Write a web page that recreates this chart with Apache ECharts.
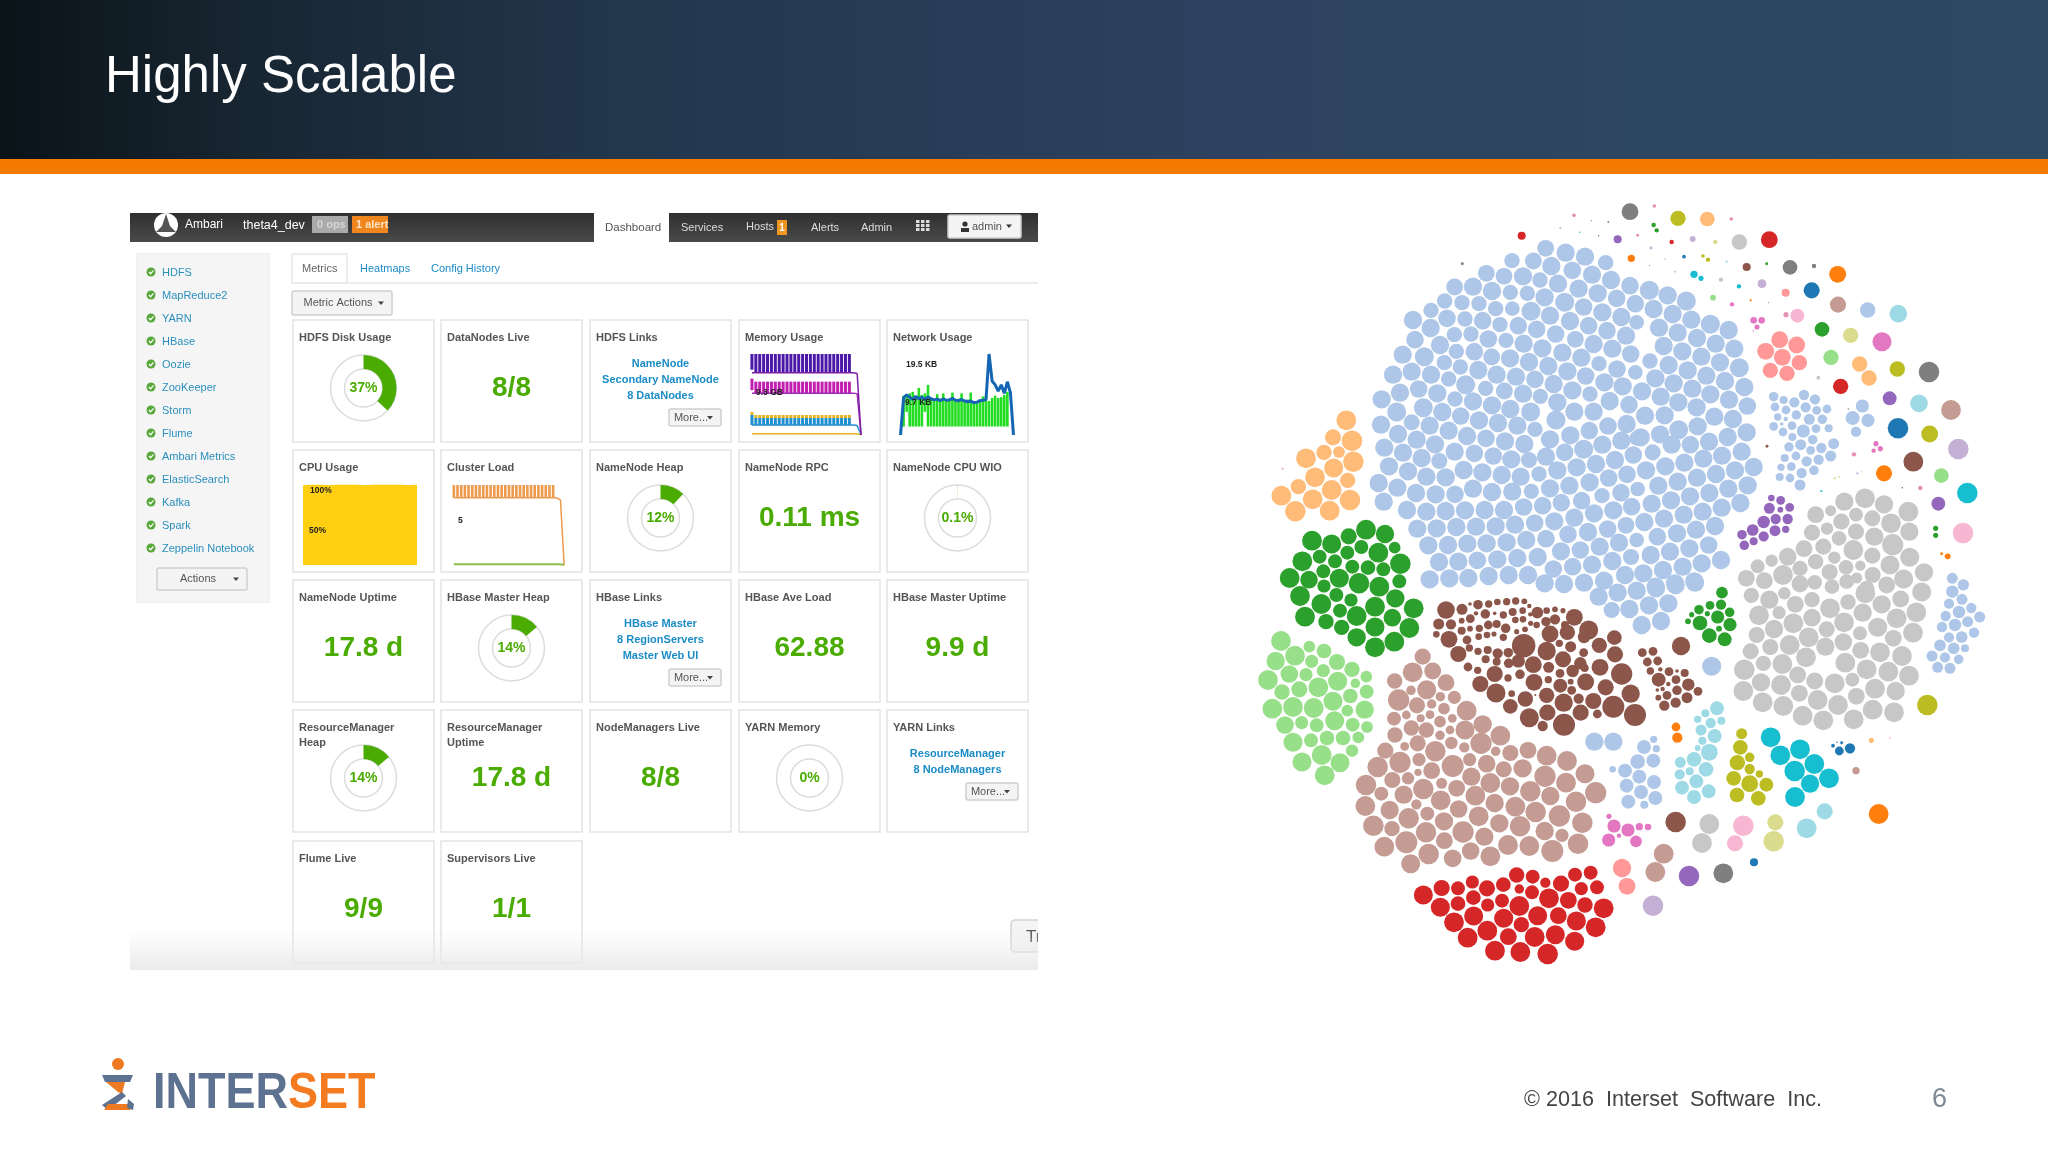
<!DOCTYPE html>
<html>
<head>
<meta charset="utf-8">
<title>Highly Scalable</title>
<script src="https://cdn.jsdelivr.net/npm/echarts@6/dist/echarts.min.js"></script>
<style>
html,body{margin:0;padding:0;background:#fff;}
#main{width:2048px;height:1152px;}
</style>
</head>
<body>
<div id="main"></div>
<script>
// ---- dashboard data ----
const cardTitles = ['HDFS Disk Usage','DataNodes Live','HDFS Links','Memory Usage','Network Usage',
    'CPU Usage','Cluster Load','NameNode Heap','NameNode RPC','NameNode CPU WIO',
    'NameNode Uptime','HBase Master Heap','HBase Links','HBase Ave Load','HBase Master Uptime',
    'ResourceManager\nHeap','ResourceManager\nUptime','NodeManagers Live','YARN Memory','YARN Links',
    'Flume Live','Supervisors Live'];
const cardValues = [null,'8/8',null,null,null, null,null,null,'0.11 ms',null,
    '17.8 d',null,null,'62.88','9.9 d', null,'17.8 d','8/8',null,null, '9/9','1/1'];
const gaugeCards = [0,7,9,11,15,18];
const gaugeValues = [37,12,0.1,14,14,0];
const gaugeLabels = ['37%','12%','0.1%','14%','14%','0%'];
const linkCards = [2,12,19];
const linkTexts = [['NameNode','Secondary NameNode','8 DataNodes'],['HBase Master','8 RegionServers','Master Web UI'],['ResourceManager','8 NodeManagers']];
const services = ['HDFS','MapReduce2','YARN','HBase','Oozie','ZooKeeper','Storm','Flume','Ambari Metrics','ElasticSearch','Kafka','Spark','Zeppelin Notebook'];

// mini charts
const cpuUsage = [99,100,100,99,100,100,100,99,100,100,100,100,99,100];
const loadBase = [8.4,8.4,8.4,8.4,8.4,8.4,8.4,8.4,8.4,8.4,8.4,8.4,8.4,8.4,8.4,8.4,8.4,8.4,8.4,8.4,8.4,8.4,8.4,8.4,8.4,8.4,8.4,8.4];
const loadStripe = [1.6,1.6,1.6,1.6,1.6,1.6,1.6,1.6,1.6,1.6,1.6,1.6,1.6,1.6,1.6,1.6,1.6,1.6,1.6,1.6,1.6,1.6,1.6,1.6,1.6,1.6,1.6,1.6];
const loadLine = [8.4,8.4,8.4,8.4,8.4,8.4,8.4,8.4,8.4,8.4,8.4,8.4,8.4,8.4,8.4,8.4,8.4,8.4,8.4,8.4,8.4,8.4,8.4,8.4,8.4,8.4,8.4,8.4,8.4,8.1,0];
const loadFloor = [0.1,0.1,0.1,0.1,0.1,0.1,0.1,0.1,0.1,0.1,0.1,0.1,0.1,0.1,0.1,0.1,0.1,0.1,0.1,0.1,0.1,0.1,0.1,0.1,0.1,0.1,0.1,0.1,0.1,0.1,0];
const memBlue = [2.3,1.6,1.6,1.6,1.6,1.6,1.6,1.6,1.6,1.6,1.6,1.6,1.6,1.6,1.6,1.6,1.6,1.6,1.6,1.6,1.6,1.6,1.6,1.6,1.6,1.6];
const memGapA = [2.3,2.3,2.3,2.3,2.3,2.3,2.3,2.3,2.3,2.3,2.3,2.3,2.3,2.3,2.3,2.3,2.3,2.3,2.3,2.3,2.3,2.3,2.3,2.3,2.3,2.3];
const memYellow = [0.7,0.7,0.7,0.7,0.7,0.7,0.7,0.7,0.7,0.7,0.7,0.7,0.7,0.7,0.7,0.7,0.7,0.7,0.7,0.7,0.7,0.7,0.7,0.7,0.7,0.7];
const memGapB = [5,5,5,5,5,5,5,5,5,5,5,5,5,5,5,5,5,5,5,5,5,5,5,5,5,5];
const memPink = [2.65,2.65,2.65,2.65,2.65,2.65,2.65,2.65,2.65,2.65,2.65,2.65,2.65,2.65,2.65,2.65,2.65,2.65,2.65,2.65,2.65,2.65,2.65,2.65,2.65,2.65];
const memGapC = [2.05,2.05,2.05,2.05,2.05,2.05,2.05,2.05,2.05,2.05,2.05,2.05,2.05,2.05,2.05,2.05,2.05,2.05,2.05,2.05,2.05,2.05,2.05,2.05,2.05,2.05];
const memPurple = [4.3,4.3,4.3,4.3,4.3,4.3,4.3,4.3,4.3,4.3,4.3,4.3,4.3,4.3,4.3,4.3,4.3,4.3,4.3,4.3,4.3,4.3,4.3,4.3,4.3,4.3];
const memPurpleLine = [14.3,14.3,14.3,14.3,14.3,14.3,14.3,14.3,14.3,14.3,14.3,14.3,14.3,14.3,14.3,14.3,14.3,14.3,14.3,14.3,14.3,14.3,14.3,14.3,14.3,14.3,14.3,14.1,0];
const memPinkLine = [9.6,9.6,9.6,9.6,9.6,9.6,9.6,9.6,9.6,9.6,9.6,9.6,9.6,9.6,9.6,9.6,9.6,9.6,9.6,9.6,9.6,9.6,9.6,9.6,9.6,9.6,9.6,9.5,0];
const memBlueLine = [2.3,2.3,2.3,2.3,2.3,2.3,2.3,2.3,2.3,2.3,2.3,2.3,2.3,2.3,2.3,2.3,2.3,2.3,2.3,2.3,2.3,2.3,2.3,2.3,2.3,2.3,2.3,2.2,0];
const memYellowLine = [0.3,0.3,0.3,0.3,0.3,0.3,0.3,0.3,0.3,0.3,0.3,0.3,0.3,0.3,0.3,0.3,0.3,0.3,0.3,0.3,0.3,0.3,0.3,0.3,0.3,0.3,0.3,0.3,0];
const netGreenBase = [0,2.2,6,2.2,2.2,2.2,2.2,2.2,6,2.2,2.2,2.2,2.2,2.2,2.2,2.2,2.2,2.2,2.2,2.2,2.2,2.2,2.2,2.2,2.2,2.2,2.2,2.2,2.2,2.2,2.2,2.2,2.2,2.2,2.2,2.2,0,0];
const netGreenBar = [0,8,4.4,8.6,9,7.8,10,8.2,4.8,10.8,7.4,6.6,8.4,7.2,8.6,6.8,7.2,8.8,6.6,7.2,8.6,6.8,7,8.8,6.4,6.4,7,7.8,8,6.6,7.4,8,7.4,7.6,8.2,9,0,0];
const netBlue = [0,9.6,10.4,9.8,9.2,10,9.4,9.8,9.2,9.9,9.4,9.1,9.3,8.9,9.4,9,9.1,9.5,9,8.9,9.2,8.8,8.6,8.8,8.4,8.5,8.9,9,9.2,21,14,13,11.4,13,10.8,13.8,11,0];

// ---- bubble pack data: x, y and diameter, read from the four zoom tiles ----
const t1Blue = [[917,175,46],[977,188,50],[1035,200,50],[1097,218,42],[816,212,42],[880,213,46],[934,228,50],[997,241,48],[1056,254,50],[1113,270,50],[1170,287,48],
[739,250,46],[792,259,46],[849,259,50],[900,270,42],[954,281,50],[1016,296,50],[1073,310,50],[1130,325,48],[1186,341,48],
[644,291,46],[699,290,50],[756,303,50],[811,307,42],[862,310,42],[914,322,50],[974,337,52],[1031,351,48],[1087,367,50],[1144,381,50],[1190,397,40],
[614,333,42],[666,338,42],[717,341,42],[767,356,42],[817,356,40],[873,364,52],[930,377,50],[990,393,50],[1046,407,48],[1101,422,48],[1158,437,50],
[573,361,42],[621,385,48],[675,387,42],[728,392,48],[780,404,42],[835,407,48],[890,418,48],[947,432,48],[1006,448,46],[1061,462,50],[1117,476,50],[1172,492,48],
[519,390,50],[572,414,50],[643,434,42],[693,432,42],[745,447,48],[798,451,42],[851,461,50],[907,475,50],[967,488,50],[1024,503,50],[1077,521,42],[1131,537,48],[1186,547,40],
[525,449,48],[600,465,50],[649,484,42],[703,485,48],[755,501,46],[810,505,50],[867,516,50],[925,528,50],[982,544,50],[1037,558,48],[1093,577,50],[1148,589,50],
[488,494,50],[553,500,52],[613,518,42],[661,531,42],[715,540,50],[770,554,50],[828,560,50],[885,568,48],[941,582,50],[997,601,50],[1050,612,42],[1109,633,50],[1167,644,48],
[459,554,50],[515,545,50],[573,554,50],[626,567,42],[677,584,52],[737,595,42],[793,603,46],[849,611,50],[901,619,42],[952,637,50],[1003,665,50],[1061,665,50],
[480,608,50],[536,597,48],[592,610,50],[645,627,42],[699,634,50],[756,646,50],[811,657,50],[872,666,52],[948,690,52],
[425,628,50],[470,666,52],[550,653,52],[607,666,50],[662,678,48],[717,691,50],[774,699,50],[832,707,50],[885,718,42],[930,748,50],[991,736,50],[1048,722,48],[1104,708,48],[1160,702,50],
[423,704,50],[515,697,44],[569,707,50],[626,722,50],[681,738,50],[738,745,48],[795,754,50],[853,762,50],[1031,778,52],[974,787,48],[1087,764,50],[1144,752,50],[1190,745,40],
[474,732,50],[530,749,50],[585,763,50],[644,785,50],[703,790,48],[760,798,48],[814,808,50],[867,810,44],[918,800,50],
[433,773,50],[489,788,50],[545,804,50],[598,813,44],[671,840,50],[727,847,50],[785,855,50],[842,860,50],[897,852,42],[952,841,50],[1010,832,50],[1068,822,50],[1125,810,50],[1180,795,48],
[447,829,50],[504,844,50],[559,860,50],[617,862,50],[699,896,50],[756,906,50],[817,905,50],[874,904,42],[930,895,50],[988,887,50],[1049,877,50],[1106,864,48],[1161,853,48],
[416,879,50],[472,893,50],[528,909,50],[587,913,50],[645,913,48],[851,951,48],[908,947,48],[964,938,48],[1025,932,48],[1086,917,42],[1143,908,48],[1193,897,40],
[431,935,50],[501,960,50],[559,965,50],[617,963,50],[675,961,50],[734,960,50],[792,960,50],[884,999,48],[943,994,50],[1003,983,50],[1062,970,50],[1120,961,50],[1175,950,48],
[532,1016,50],[590,1015,50],[649,1011,50],[708,1010,50],[767,1009,50],[825,1004,50],[984,1033,48],[1044,1026,50],[1103,1017,48],[1158,1006,46],
[565,1066,50],[624,1065,50],[682,1061,50],[740,1060,50],[800,1057,50],[859,1050,50],[918,1046,48],[963,1084,50],[1021,1080,48],[1079,1070,50],[1137,1058,50],[1190,1050,40],
[597,1116,50],[655,1115,50],[712,1111,48],[772,1108,50],[832,1104,50],[893,1101,50],[940,1137,48],[998,1130,48],[1056,1124,50],[1117,1113,50],[1173,1101,44],
[569,1168,50],[628,1165,50],[685,1164,50],[746,1158,50],[806,1155,50],[864,1155,50],[914,1180,50],[972,1182,50],[1032,1178,50],[1092,1172,50],[1155,1155,50]];
const t1Peach = [[319,691,54],[279,742,44],[336,752,56],[252,787,42],[297,786,32],[198,805,54],[281,834,52],[340,815,56],[225,862,54],[323,871,42],[175,890,42],[275,900,54],[124,917,54],[218,928,54],[330,930,56],[166,964,56],[269,962,54]];
const t1Green = [[378,1019,54],[435,1032,50],[216,1052,54],[326,1039,44],[275,1062,52],[364,1071,38],[415,1088,54],[464,1073,32],[187,1114,54],[239,1100,38],[322,1088,38],[481,1121,56],[285,1114,38],[337,1130,38],[384,1133,40],[430,1138,38],[250,1144,38],[149,1164,54],[207,1169,48],[298,1165,52],[357,1180,56],[478,1174,38],[252,1188,36],[418,1190,54]];
const t1Red = [[845,137,22]];
const t1Purple = [[1133,148,22]];
const t1Orange = [[1174,205,20]];
const t1Grey = [[1170,65,46],[667,221,8],[1105,96,5],[1054,92,3],[1076,137,4]];
const t1Pink = [[1002,76,10],[1193,136,8],[128,836,5]];
const t1Mauve = [[961,114,6]];
const t1Cyan = [[1019,127,4]];

const t2Blue = [[88,301,52],[143,316,50],[199,333,52],[101,357,50],[158,372,50],[214,389,50],[271,403,52],[326,420,50],
[117,413,50],[173,428,50],[231,444,50],[287,461,50],[343,476,50],
[131,468,50],[187,484,50],[244,500,50],[300,517,50],[358,533,52],
[90,513,42],[146,525,50],[203,541,50],[259,557,50],[315,573,50],[373,591,50],
[106,565,50],[161,580,50],[217,596,50],[271,613,50],[327,629,50],[382,648,48],
[66,604,50],[122,620,50],[175,637,50],[230,652,50],[283,680,50],[339,687,50],
[75,677,50],[134,676,50],[176,719,52],[233,709,50],[380,727,50],[323,741,50],[267,755,50],[211,764,48],
[62,742,50],[120,733,50],[155,764,50],[98,787,44],
[365,785,50],[306,797,50],[250,806,50],[193,818,50],[136,829,50],[78,841,50],
[401,831,50],[345,841,50],[288,852,50],[231,863,50],[173,875,50],[115,887,50],
[383,886,50],[325,896,50],[268,909,50],[210,919,50],[153,931,50],[95,941,50],
[361,939,50],[305,953,50],[248,965,50],[191,974,50],[132,986,50],[73,996,50],
[285,1008,50],[228,1019,50],[171,1030,50],[112,1040,48],
[266,1065,48],[208,1075,50],[150,1085,50],[92,1095,50],
[303,1110,50],[245,1120,50],[188,1130,50],[129,1140,50],[70,1150,50],
[223,1174,50],[165,1180,50],[107,1190,50],
[461,620,26],[491,630,22],[523,637,28],[552,615,28],[585,628,28],[465,651,24],[498,660,24],[557,652,28],[590,661,24],[621,657,24],[473,681,20],[497,687,12],[529,675,26],[568,688,30],[607,688,26],[461,709,24],[485,702,10],[516,707,24],[550,723,36],[588,716,24],[626,715,22],[489,726,24],[517,741,22],[578,749,26],[641,761,30],[542,764,30],[507,771,26],[604,774,28],[572,781,24],[632,798,30],[494,804,22],[528,798,24],[560,814,28],[596,809,28],[483,832,20],[514,830,24],[545,849,28],[582,841,26],[479,861,22],[510,864,24],[540,885,30],
[727,648,36],[698,684,38],[744,691,36],[708,725,28],[743,360,42],[997,1165,30],[1030,1185,30]];
const t2Grey = [[735,925,54],[673,935,50],[792,943,50],[632,962,30],[587,974,46],[708,974,38],[865,965,54],[757,985,44],[664,995,44],[813,1000,54],[576,1028,44],[621,1016,34],[708,1025,44],[868,1025,50],[657,1045,40],[763,1040,50],[818,1064,58],[552,1076,46],[610,1070,44],[700,1080,54],[757,1097,44],[643,1103,34],[503,1100,48],[455,1112,34],[413,1129,38],[869,1102,52],[587,1115,42],[540,1135,42],[810,1125,52],[629,1146,44],[678,1132,40],[721,1127,28],[912,1147,50],[489,1155,54],[758,1155,44],[379,1165,46],[433,1172,46],[584,1177,40],[851,1167,52],[540,1182,46],[680,1175,40],[710,1164,30],[800,1185,46],[636,1190,40],[740,1195,42],[358,156,42],[303,269,12],[595,563,10]];
const t2Purple = [[454,924,18],[482,931,24],[509,952,24],[448,955,30],[481,959,16],[467,987,28],[503,987,28],[431,996,34],[398,1020,32],[465,1022,30],[497,1018,20],[366,1034,26],[431,1039,28],[401,1054,22],[373,1066,26],[809,625,38],[955,941,38]];
const t2Salmon = [[479,449,46],[530,465,46],[437,484,46],[487,502,46],[538,518,42],[451,541,42],[501,550,42],[497,308,22]];
const t2Olive = [[174,85,42],[249,198,10],[264,209,12],[832,537,42],[929,732,46]];
const t2Peach = [[262,87,40],[719,522,42],[747,564,42]];
const t2Pink = [[334,87,10],[103,48,10],[498,374,14],[702,793,12],[901,894,12]];
const t2LightPink = [[532,377,38],[1029,1029,56]];
const t2Green = [[101,105,12],[110,121,12],[440,221,8],[606,418,40],[947,1015,14],[947,1036,14]];
const t2Red = [[448,149,46],[155,156,12],[662,589,42]];
const t2Lavender = [[218,147,16],[426,281,24],[1015,777,56]];
const t2YellowGreen = [[286,156,12],[692,436,42],[644,865,6],[657,860,5]];
const t2Mauve = [[93,174,8],[165,245,5],[712,850,6]];
const t2DarkBlue = [[192,200,10],[575,301,44],[834,715,56]];
const t2DarkGrey = [[135,207,3],[88,226,3],[510,232,40],[582,228,12],[927,546,56],[445,338,3],[685,657,4],[724,845,2]];
const t2Cyan = [[222,253,20],[243,265,14],[357,289,12],[604,903,6],[1042,909,56]];
const t2LightCyan = [[320,215,6],[835,371,48],[897,640,48]];
const t2Brown = [[380,231,22],[441,769,8],[880,815,54],[847,893,4]];
const t2Orange = [[653,253,46],[392,331,6],[792,850,44],[965,1091,8],[983,1099,16]];
const t2LightGreen = [[279,323,16],[633,502,42],[964,857,40]];
const t2Magenta = [[336,343,12],[401,391,18],[425,391,18],[411,411,14],[400,423,4],[786,455,52],[768,761,14],[781,776,14],[761,782,12]];
const t2RoseBrown = [[654,344,44],[993,660,54]];

const t3Green = [[180,48,54],[289,45,38],[244,72,54],[333,60,36],[405,80,54],[466,55,50],[521,85,54],[300,92,38],[195,110,54],[258,125,42],[350,108,54],[457,113,48],[305,142,42],[405,141,52],[508,144,54],[350,172,50],[463,185,54],[405,202,54]];
const t3LightGreen = [[123,183,54],[208,200,32],[252,213,40],[165,227,54],[107,243,50],[215,244,36],[291,246,44],[250,272,36],[336,268,42],[148,282,48],[198,284,36],[379,290,32],[84,300,54],[293,304,52],[346,310,26],[178,328,44],[235,322,54],[126,336,42],[380,335,38],[331,348,40],[279,364,52],[97,386,54],[159,381,54],[221,384,54],[374,389,50],[322,392,32],[185,428,36],[284,422,52],[135,435,48],[230,436,38],[338,434,38],[381,441,32],[261,474,40],[309,474,40],[355,472,32],[159,487,52],[213,481,38],[245,525,54],[336,512,34],[186,546,52],[300,548,52],[254,586,54]];
const t3Brown = [[618,90,48],[666,88,30],[690,72,10],[714,74,26],[746,72,20],[772,66,18],[800,65,20],[827,63,20],[853,64,16],[868,78,12],[892,98,32],[920,92,18],[945,88,16],[969,92,14],[1003,112,46],[596,132,30],[633,133,28],[665,122,16],[691,116,24],[708,100,12],[736,102,26],[764,100,10],[790,105,20],[818,96,22],[848,92,18],[871,103,12],[918,125,26],[945,118,28],[975,135,22],[1046,150,52],[589,163,18],[627,178,46],[665,152,22],[690,146,16],[718,145,20],[745,135,24],[770,132,22],[797,145,26],[826,120,18],[849,118,18],[872,130,14],[855,148,16],[890,135,18],[930,162,46],[982,157,42],[1123,173,40],[681,180,24],[716,170,18],[741,165,18],[762,162,14],[790,172,20],[830,155,14],[851,197,64],[958,190,20],[1032,171,34],[1078,196,42],[655,222,44],[688,204,20],[714,214,20],[743,210,22],[773,220,28],[805,218,26],[920,213,50],[992,200,30],[1031,218,24],[1125,223,44],[684,261,24],[713,271,20],[737,238,22],[770,245,22],[806,250,26],[835,243,36],[880,254,46],[926,262,30],[969,238,44],[1021,250,34],[1080,262,46],[764,282,44],[960,280,24],[998,273,34],[1034,264,22],[1145,282,58],[721,312,44],[804,294,20],[840,283,26],[882,307,46],[925,299,20],[961,317,38],[992,305,16],[1037,306,46],[1097,322,44],[815,341,18],[768,339,52],[856,357,42],[920,346,42],[995,331,24],[1172,341,50],[886,345,6],[811,379,40],[971,368,50],[1016,356,28],[1060,363,44],[1120,380,60],[922,398,44],[1022,398,44],[868,413,52],[1072,402,24],[1185,405,60],[972,434,60],[908,438,28]];
const t3RoseBrown = [[548,230,44],[518,277,54],[578,273,46],[464,303,42],[618,308,46],[513,331,26],[560,329,52],[601,350,26],[643,352,36],[476,360,58],[531,376,44],[575,372,26],[612,386,32],[680,392,54],[462,416,38],[499,405,24],[542,415,22],[570,404,24],[600,425,32],[637,415,24],[514,444,42],[559,450,42],[465,465,42],[600,466,26],[630,450,24],[675,450,52],[728,433,50],[781,467,54],[533,490,44],[494,499,24],[634,489,34],[673,502,28],[723,490,58],[436,512,44],[586,514,56],[767,514,26],[811,519,44],[864,511,46],[920,527,54],[537,539,36],[689,539,36],[480,547,58],[413,561,56],[638,558,60],[740,551,48],[981,543,54],[848,565,50],[575,572,46],[791,568,44],[534,577,20],[504,595,34],[457,600,44],[694,590,50],[915,589,58],[1035,581,52],[378,615,56],[550,627,56],[605,610,30],[751,609,54],[978,608,54],[810,619,50],[650,625,46],[871,634,56],[424,641,38],[491,644,50],[706,647,54],[931,648,50],[1067,638,58],[602,661,54],[764,669,50],[1008,665,56],[376,678,54],[529,673,28],[826,680,54],[656,687,48],[449,690,50],[887,696,56],[716,709,54],[562,701,38],[958,708,58],[506,715,56],[612,724,50],[778,730,50],[1027,728,56],[400,737,56],[840,739,56],[669,756,58],[456,746,42],[558,757,56],[914,753,50],[966,766,36],[733,770,50],[804,795,54],[613,782,46],[499,787,60],[1014,791,56],[433,800,54],[868,798,54],[692,813,48],[566,822,56],[937,813,60],[751,829,54],[638,835,48],[512,851,52]];
const t3Red = [[830,885,42],[878,890,38],[1005,884,38],[1052,878,38],[697,906,36],[916,908,28],[963,911,44],[605,924,44],[654,925,38],[741,925,44],[790,914,40],[1024,926,36],[1071,922,38],[550,945,52],[838,927,26],[876,937,38],[700,953,40],[786,962,38],[927,955,54],[985,961,46],[654,971,40],[743,975,36],[601,982,52],[838,978,54],[1035,975,42],[1091,985,54],[893,1007,52],[701,1008,52],[955,1007,46],[791,1015,52],[642,1027,54],[1009,1023,52],[844,1034,42],[1067,1042,54],[742,1052,54],[683,1073,54],[805,1070,46],[884,1071,54],[946,1064,52],[1004,1084,52],[765,1112,54],[841,1116,54],[923,1122,56]];
const t3Blue = [[1076,50,50],[1133,38,50],[1115,90,44],[1063,485,50],[1120,485,50],[1118,568,18]];
const t3Magenta = [[1107,709,14],[1122,738,36],[1137,767,12],[1106,780,36]];

const t4Blue = [[167,15,50],[225,8,50],[50,32,50],[108,25,50],[87,76,50],[145,70,50],[28,87,50],[123,123,50],[65,135,50],
[72,501,38],[101,478,20],[109,506,20],[53,545,40],[100,542,38],[15,572,38],[58,590,38],[102,606,38],[20,617,38],[63,636,38],[106,654,38],[25,665,38],[73,674,22],[275,259,52],
[1030,14,30],[997,35,34],[1026,58,30],[987,71,28],[1054,84,28],[1017,96,34],[977,108,28],[1079,111,30],[1043,125,30],[1005,135,34],[966,141,28],[1062,158,28],[1025,171,32],[987,172,28],[960,196,32],[1001,205,32],[1035,205,22],[936,228,30],[975,232,28],[1016,238,26],[953,262,30],[990,265,30]];
const t4Grey = [[394,46,42],[448,59,50],[493,40,34],[526,73,46],[576,59,42],[630,85,54],[684,66,42],[736,40,54],[785,73,50],[842,57,46],[905,36,52],[417,106,54],[477,98,36],[520,130,54],[576,113,48],[672,127,54],[728,98,50],[830,115,54],[889,97,54],[462,147,50],[620,148,44],[720,160,38],[773,142,52],[879,158,54],[410,165,44],[566,172,54],[670,186,48],[820,175,46],[509,195,54],[616,200,50],[392,214,44],[451,201,44],[722,211,46],[780,217,54],[846,228,54],[430,250,42],[487,252,54],[558,232,54],[676,248,54],[740,268,54],[373,269,56],[533,285,46],[805,275,54],[867,287,54],[423,307,50],[584,303,46],[644,310,54],[697,299,38],[483,315,54],[370,333,54],[538,340,46],[765,326,54],[827,333,50],[709,349,46],[593,360,54],[428,367,54],[654,375,54],[758,389,54],[490,378,54],[822,397,54],[548,407,54],[610,421,54],[701,418,54],[268,732,54],[246,789,54]];
const t4Brown = [[183,198,50],[167,726,56],[67,218,24],[99,214,24],[82,246,24],[113,243,24],[91,273,20],[121,268,12],[147,275,24],[171,273,10],[194,279,22],[116,299,38],[168,299,24],[145,312,12],[205,314,34],[112,330,10],[128,327,12],[171,331,26],[234,334,24],[141,346,24],[115,353,16],[201,353,30],[167,368,28],[133,377,28]];
const t4Green = [[306,38,32],[270,76,24],[303,74,28],[237,89,26],[329,97,26],[215,104,14],[262,101,14],[293,111,36],[204,124,16],[240,129,40],[330,134,36],[297,146,16],[268,167,40],[314,178,38]];
const t4LightCyan = [[291,385,38],[256,400,22],[233,418,20],[304,422,22],[272,429,28],[243,450,30],[284,468,38],[247,482,22],[233,504,16],[268,517,46],[222,538,40],[181,547,30],[258,568,40],[209,574,22],[179,583,28],[229,604,38],[186,623,38],[266,634,38],[222,651,38],[560,745,54],[614,694,44]];
const t4Orange = [[168,441,24],[172,473,28],[776,702,54]];
const t4Olive = [[365,461,30],[361,502,40],[389,532,26],[352,548,42],[389,567,28],[418,582,20],[341,595,40],[389,611,46],[439,614,38],[351,645,40],[415,655,40],[922,375,56]];
const t4Cyan = [[452,472,54],[481,526,54],[540,508,54],[583,552,54],[524,573,56],[570,611,50],[627,595,54],[525,651,54]];
const t4DarkBlue = [[690,505,28],[658,513,24],[639,497,10],[665,488,8],[651,487,4],[402,847,22]];
const t4Peach = [[754,481,14]];
const t4Salmon = [[810,474,4],[6,864,50],[21,919,46]];
const t4RoseBrown = [[708,572,20],[131,821,54],[106,876,54]];
const t4Magenta = [[24,750,36],[58,740,20],[84,741,18],[48,784,32]];
const t4LightPink = [[370,737,56],[345,790,44]];
const t4YellowGreen = [[466,727,44],[461,784,56]];
const t4Purple = [[207,888,56]];
const t4DarkGrey = [[310,880,54]];
const t4Lavender = [[99,977,56]];

// tile index, colour, points
const bubbleSets = [
    [0,'#aec7e8',t1Blue],[0,'#ffbb78',t1Peach],[0,'#2ca02c',t1Green],[0,'#d62728',t1Red],[0,'#9467bd',t1Purple],[0,'#ff7f0e',t1Orange],[0,'#7f7f7f',t1Grey],[0,'#e58fb5',t1Pink],[0,'#c5b0d5',t1Mauve],[0,'#17becf',t1Cyan],
    [1,'#aec7e8',t2Blue],[1,'#c7c7c7',t2Grey],[1,'#9467bd',t2Purple],[1,'#ff9896',t2Salmon],[1,'#bcbd22',t2Olive],[1,'#ffbb78',t2Peach],[1,'#e58fb5',t2Pink],[1,'#f7b6d2',t2LightPink],[1,'#2ca02c',t2Green],[1,'#d62728',t2Red],[1,'#c5b0d5',t2Lavender],[1,'#dbdb8d',t2YellowGreen],[1,'#c5b0d5',t2Mauve],[1,'#1f77b4',t2DarkBlue],[1,'#7f7f7f',t2DarkGrey],[1,'#17becf',t2Cyan],[1,'#9edae5',t2LightCyan],[1,'#8c564b',t2Brown],[1,'#ff7f0e',t2Orange],[1,'#98df8a',t2LightGreen],[1,'#e377c2',t2Magenta],[1,'#c49c94',t2RoseBrown],
    [2,'#2ca02c',t3Green],[2,'#98df8a',t3LightGreen],[2,'#8c564b',t3Brown],[2,'#c49c94',t3RoseBrown],[2,'#d62728',t3Red],[2,'#aec7e8',t3Blue],[2,'#e377c2',t3Magenta],
    [3,'#aec7e8',t4Blue],[3,'#c7c7c7',t4Grey],[3,'#8c564b',t4Brown],[3,'#2ca02c',t4Green],[3,'#9edae5',t4LightCyan],[3,'#ff7f0e',t4Orange],[3,'#bcbd22',t4Olive],[3,'#17becf',t4Cyan],[3,'#1f77b4',t4DarkBlue],[3,'#ffbb78',t4Peach],[3,'#ff9896',t4Salmon],[3,'#c49c94',t4RoseBrown],[3,'#e377c2',t4Magenta],[3,'#f7b6d2',t4LightPink],[3,'#dbdb8d',t4YellowGreen],[3,'#9467bd',t4Purple],[3,'#7f7f7f',t4DarkGrey],[3,'#c5b0d5',t4Lavender]
];

// ---- helpers ----
const FONT = '"Liberation Sans", Arial, sans-serif';
const GREEN = '#4aab00';
const LINK = '#1b8cc6';
let g = [];

function rect(x,y,w,h,fill,stroke,z,r){
    g.push({type:'rect',silent:true,z:z||1,shape:{x:x,y:y,width:w,height:h,r:r||0},
        style:{fill:fill,stroke:stroke||null,lineWidth:stroke?1.5:0}});
}
function txt(x,y,s,size,color,bold,align,z){
    g.push({type:'text',silent:true,z:z||20,style:{x:x,y:y,text:s,fill:color,
        font:(bold?'bold ':'')+size+'px '+FONT,textAlign:align||'left',textVerticalAlign:'middle',lineHeight:15}});
}
function poly(points,fill,z){
    g.push({type:'polygon',silent:true,z:z||20,shape:{points:points},style:{fill:fill}});
}
function circle(x,y,r,fill,z){
    g.push({type:'circle',silent:true,z:z||20,shape:{cx:x,cy:y,r:r},style:{fill:fill}});
}
function caret(x,y,color){
    poly([[x-3,y-1.5],[x+3,y-1.5],[x,y+2]],color||'#444');
}
function button(x,y,w,h,s,size){
    rect(x,y,w,h,'#f4f4f4','#cfcfcf',3,2);
    txt(x+w/2-4,y+h/2,s,size,'#555',false,'center');
    caret(x+w-11,y+h/2);
}

// ---- slide frame ----
function drawFrame(){
    g.push({type:'rect',silent:true,z:0,shape:{x:0,y:0,width:2048,height:159},style:{
        fill:new echarts.graphic.LinearGradient(0,0,1,0,[{offset:0,color:'#0a1318'},{offset:0.12,color:'#182632'},{offset:0.3,color:'#22364c'},{offset:0.6,color:'#2d4260'},{offset:1,color:'#2d4a62'}])}});
    rect(0,159,2048,15,'#f57a00',null,0);
    txt(105,78,'Highly Scalable',51,'#ffffff',false);
    // logo
    circle(118,1064,6,'#ee7a22');
    poly([[102,1075],[133,1075],[130,1082],[105,1082]],'#5d7190');
    poly([[106,1082],[125,1082],[122,1094],[118,1092]],'#ee7a22');
    poly([[102,1105],[122,1092],[126,1096],[108,1110]],'#5d7190');
    poly([[108,1104],[133,1104],[130,1110],[104,1110]],'#ee7a22');
    poly([[128,1099],[134,1104],[133,1110],[127,1108]],'#5d7190');
    g.push({type:'text',silent:true,z:20,scaleY:1.12,originX:153,originY:1119,style:{x:153,y:1119,text:'INTER',fill:'#5d7190',font:'bold 45px '+FONT,textVerticalAlign:'bottom'}});
    g.push({type:'text',silent:true,z:20,scaleY:1.12,originX:288,originY:1119,style:{x:288,y:1119,text:'SET',fill:'#f47b20',font:'bold 45px '+FONT,textVerticalAlign:'bottom'}});
    txt(1524,1100,'© 2016  Interset  Software  Inc.',21.6,'#444');
    txt(1932,1100,'6',27,'#7f8a96');
}

// ---- ambari screenshot chrome ----
function drawNav(){
    g.push({type:'rect',silent:true,z:2,shape:{x:130,y:213,width:908,height:29},style:{
        fill:new echarts.graphic.LinearGradient(0,0,0,1,[{offset:0,color:'#2f2f2f'},{offset:1,color:'#4a4a4a'}])}});
    circle(166,225,12,'#fff');
    poly([[166,214],[170,226],[176,232],[156,232],[162,226]],'#555');
    txt(185,225,'Ambari',12,'#fff');
    txt(243,226,'theta4_dev',12.5,'#fff');
    rect(312,216,36,17,'#aaaaaa',null,3);
    txt(317,225,'0 ops',11,'#d6d6d6',true);
    rect(352,216,36,17,'#f0861e',null,3);
    txt(356,225,'1 alert',11,'#ffe3c4',true);
    rect(594,213,75,29,'#ffffff',null,3);
    txt(605,228,'Dashboard',11.5,'#555');
    txt(681,228,'Services',11,'#ddd');
    txt(746,227,'Hosts',11,'#ddd');
    rect(777,220,10,15,'#f0961e',null,3);
    txt(782,228,'1',10,'#fff',true,'center');
    txt(811,228,'Alerts',11,'#ddd');
    txt(861,228,'Admin',11,'#ddd');
    for(let i=0;i<3;i++){
        for(let j=0;j<3;j++){
            rect(916+i*5,220+j*4,3.5,3,'#ddd',null,3);
        }
    }
    rect(948,215,73,23,'#f4f4f4','#ccc',3,2);
    circle(965,224,2.6,'#333');
    poly([[961,232],[969,232],[969,228],[961,228]],'#333');
    txt(972,227,'admin',11,'#555');
    caret(1009,226,'#333');
}
function drawSidebar(){
    rect(137,254,132,348,'#f5f5f5','#eeeeee',1);
    services.forEach(function(name,i){
        let y = 272+i*23;
        circle(151,y,4.5,'#58a83b');
        g.push({type:'polyline',silent:true,z:21,shape:{points:[[149,y],[150.6,y+1.8],[153.5,y-1.6]]},style:{stroke:'#fff',lineWidth:1.3,fill:null}});
        txt(162,y+0.5,name,11,'#2a8fbd');
    });
    button(157,568,90,22,'Actions',11);
}
function drawTabs(){
    g.push({type:'line',silent:true,z:1,shape:{x1:292,y1:283,x2:1038,y2:283},style:{stroke:'#e6e6e6',lineWidth:1.5}});
    rect(292,254,55,29,'#ffffff','#e8e8e8',2);
    txt(302,269,'Metrics',11,'#666');
    txt(360,269,'Heatmaps',11,LINK);
    txt(431,269,'Config History',11,LINK);
    button(292,291,100,24,'Metric Actions',11);
}
const colX = [293,441,590,739,887];
const rowY = [320,450,580,710,841];
const CARD_W = 141;
const CARD_H = 122;
function cardPos(i){
    return {x:colX[i%5],y:rowY[Math.floor(i/5)]};
}
function drawCards(){
    cardTitles.forEach(function(title,i){
        let p = cardPos(i);
        rect(p.x,p.y,CARD_W,CARD_H,'#ffffff','#e3e3e3',1);
        let lines = title.split('\n');
        lines.forEach(function(line,k){
            txt(p.x+6,p.y+18+k*15,line,11,'#555',true);
        });
        if(cardValues[i]){
            txt(p.x+CARD_W/2,p.y+68,cardValues[i],28,GREEN,true,'center');
        }
    });
    linkCards.forEach(function(card,i){
        let p = cardPos(card);
        linkTexts[i].forEach(function(s,k){
            txt(p.x+CARD_W/2,p.y+44+k*16,s,11,LINK,true,'center');
        });
        let top = p.y+(linkTexts[i].length==3?89:73);
        button(p.x+CARD_W-62,top,52,17,'More...',11);
    });
    // faded bottom edge and the clipped button
    rect(1011,920,40,32,'#f4f4f4','#d4d4d4',3,4);
    txt(1026,937,'Tr',17,'#555',false,'left',4);
    rect(1038,900,40,70,'#ffffff',null,5);
    g.push({type:'rect',silent:true,z:6,shape:{x:130,y:930,width:908,height:40},style:{
        fill:new echarts.graphic.LinearGradient(0,0,0,1,[{offset:0,color:'rgba(235,235,235,0)'},{offset:1,color:'rgba(232,232,232,0.9)'}])}});
    // labels inside the mini charts
    txt(310,491,'100%',8.5,'#222',true);
    txt(309,531,'50%',8.5,'#222',true);
    txt(458,521,'5',8.5,'#222',true);
    txt(756,393,'9.3 GB',8.5,'#222',true);
    txt(906,365,'19.5 KB',8.5,'#222',true);
    txt(905,403,'9.7 KB',8.5,'#222',true);
}

// ---- echarts option ----
function hiddenAxis(grid,min,max,inverse){
    return {type:'value',gridIndex:grid,min:min,max:max,inverse:!!inverse,show:false};
}
function catAxis(grid,count,gap,every,lineColor){
    let cats = [];
    for(let i=0;i<count;i++) cats.push(i);
    return {type:'category',gridIndex:grid,data:cats,boundaryGap:gap,
        axisLine:{show:true,lineStyle:{color:lineColor,width:1}},axisTick:{show:false},axisLabel:{show:false},
        splitLine:{show:true,interval:every,lineStyle:{color:'#ececec',width:1}}};
}
function valAxis(grid,max,lineColor){
    return {type:'value',gridIndex:grid,min:0,max:max,
        axisLine:{show:true,lineStyle:{color:lineColor,width:1.5}},axisTick:{show:false},axisLabel:{show:false},splitLine:{show:false}};
}
function stacked(grid,name,values,color,width){
    return {type:'bar',name:name,xAxisIndex:grid,yAxisIndex:grid,stack:'s'+grid,data:values,barWidth:width||2.6,
        itemStyle:{color:color},silent:true,z:3};
}
function lineOf(grid,values,color,width){
    return {type:'line',xAxisIndex:grid,yAxisIndex:grid,data:values,symbol:'none',silent:true,z:4,
        lineStyle:{color:color,width:width||1.5}};
}

function buildOption(){
    drawFrame();
    drawNav();
    drawSidebar();
    drawTabs();
    drawCards();

    const tiles = [[1240,190],[1620,190],[1240,580],[1620,580]];
    let grids = tiles.map(function(t){
        return {left:t[0],top:t[1],width:400,height:400};
    });
    grids.push({left:303,top:485,width:114,height:80});
    grids.push({left:452,top:485,width:114,height:80});
    grids.push({left:750,top:354,width:113,height:81});
    grids.push({left:899,top:354,width:116,height:81});

    let xAxes = [0,1,2,3].map(function(i){ return hiddenAxis(i,0,1200); });
    let yAxes = [0,1,2,3].map(function(i){ return hiddenAxis(i,0,1200,true); });
    xAxes.push(catAxis(4,cpuUsage.length,false,3,'#4a3b00'));
    yAxes.push(valAxis(4,100,'#ffcc00'));
    xAxes.push(catAxis(5,loadLine.length,true,6,'#8fbf4a'));
    yAxes.push(valAxis(5,10,'#ee9a4d'));
    xAxes.push(catAxis(6,memPurpleLine.length,true,6,'#e6b422'));
    yAxes.push(valAxis(6,18.6,'#7d1fa5'));
    xAxes.push(catAxis(7,netBlue.length,true,7,'#1f6db4'));
    yAxes.push(valAxis(7,21,'#1f6db4'));
    yAxes[7].axisLine.lineStyle.color = '#dfe6ee';

    let series = [];
    bubbleSets.forEach(function(set){
        series.push({type:'scatter',xAxisIndex:set[0],yAxisIndex:set[0],data:set[2],clip:false,silent:true,
            symbolSize:function(d){ return d[2]*1.1/3; },itemStyle:{color:set[1],opacity:1},z:3});
    });

    // mini charts
    series.push({type:'line',xAxisIndex:4,yAxisIndex:4,data:cpuUsage,symbol:'none',silent:true,z:3,
        lineStyle:{color:'#ffcc00',width:1},areaStyle:{color:'#ffcc00',opacity:0.93}});
    series.push(stacked(5,'base',loadBase,'rgba(0,0,0,0)'));
    series.push(stacked(5,'load',loadStripe,'#ee9a4d'));
    series.push(lineOf(5,loadLine,'#ee9a4d'));
    series.push(lineOf(5,loadFloor,'#8fbf4a',2));

    series.push(stacked(6,'gapA',memGapA,'rgba(0,0,0,0)',3));
    series.push(stacked(6,'blue',memBlue,'#1f8fd0',3));
    series.push(stacked(6,'yellow',memYellow,'#e6b422',3));
    series.push(stacked(6,'gapB',memGapB,'rgba(0,0,0,0)',3));
    series.push(stacked(6,'pink',memPink,'#c21fb0',3));
    series.push(stacked(6,'gapC',memGapC,'rgba(0,0,0,0)',3));
    series.push(stacked(6,'purple',memPurple,'#4a17a8',3));
    series.push(lineOf(6,memYellowLine,'#e6b422'));
    series.push(lineOf(6,memBlueLine,'#1f8fd0'));
    series.push(lineOf(6,memPinkLine,'#a02bb5'));
    series.push(lineOf(6,memPurpleLine,'#7d1fa5'));

    series.push(stacked(7,'netBase',netGreenBase,'rgba(0,0,0,0)'));
    series.push(stacked(7,'net',netGreenBar,'#22dd22'));
    series.push(lineOf(7,netBlue,'#1565b5',3));

    // the donut cards
    gaugeCards.forEach(function(card,i){
        let p = cardPos(card);
        let center = [p.x+CARD_W/2,p.y+68];
        series.push({type:'pie',center:center,radius:[19,33],silent:true,z:3,startAngle:90,
            data:[{value:1,name:gaugeLabels[i]}],
            itemStyle:{color:'#fff',borderColor:'#dcdcdc',borderWidth:1.5},
            label:{show:true,position:'center',formatter:'{b}',fontFamily:FONT,fontWeight:'bold',fontSize:14,color:GREEN},
            labelLine:{show:false}});
        series.push({type:'pie',center:center,radius:[19,33],silent:true,z:4,startAngle:90,clockwise:true,
            data:[{value:gaugeValues[i],itemStyle:{color:GREEN}},{value:100-gaugeValues[i],itemStyle:{color:'rgba(0,0,0,0)'}}],
            label:{show:false},labelLine:{show:false}});
    });

    return {
        animation:false,
        backgroundColor:'#fff',
        textStyle:{fontFamily:FONT},
        grid:grids,
        xAxis:xAxes,
        yAxis:yAxes,
        series:series,
        graphic:{elements:g}
    };
}

window.onload=function(){
    let myChart = echarts.init(document.getElementById('main'));
    myChart.setOption(buildOption());
}
</script>
</body>
</html>
